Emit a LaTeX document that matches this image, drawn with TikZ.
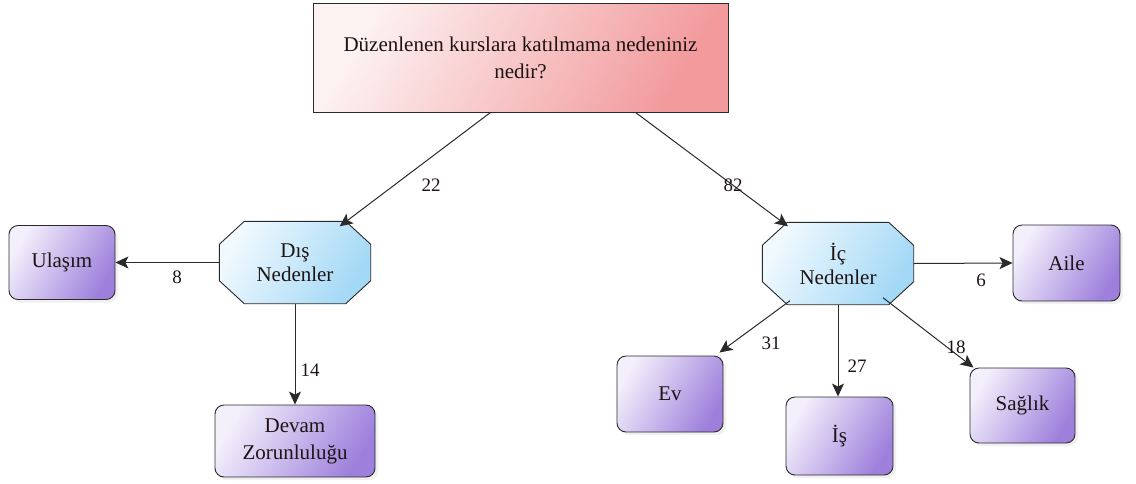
\documentclass[tikz,border=0pt]{standalone}
\usepackage{fontspec}
\setmainfont{Liberation Serif}
\usetikzlibrary{arrows.meta,shadows,backgrounds}
\definecolor{txt}{HTML}{1E1414}
\definecolor{edge}{HTML}{2A2A2A}
\definecolor{pinkA}{HTML}{FDF2F2}
\definecolor{pinkB}{HTML}{F29A9C}
\definecolor{blueA}{HTML}{F0F9FE}
\definecolor{blueB}{HTML}{A3D8F6}
\definecolor{purA}{HTML}{F3EFFB}
\definecolor{purB}{HTML}{9E80DC}
\tikzset{
  base/.style={draw=edge, line width=0.9pt, text=txt, align=center, font=\fontsize{21}{27}\selectfont},
  question/.style={base, rectangle, minimum width=415pt, minimum height=109pt,
     shading=axis, left color=pinkA, right color=pinkB, shading angle=60},
  octa/.style={text=txt, align=center, font=\fontsize{21}{24}\selectfont, rectangle,
     minimum width=151pt, minimum height=82pt, inner sep=0pt},
  octfill/.style={draw=edge, line width=0.9pt, shading=axis, left color=blueA, right color=blueB, shading angle=60},
  leaf/.style={base, rounded corners=9pt, minimum width=106pt, minimum height=74pt,
     shading=axis, left color=purA, right color=purB, shading angle=60,
     drop shadow={opacity=0.12, shadow xshift=3pt, shadow yshift=-3pt}},
  conn/.style={draw=edge, line width=1pt, -{Stealth[length=13pt,width=12pt,inset=3pt]}},
  num/.style={text=txt, font=\fontsize{19}{20}\selectfont, inner sep=0pt}
}
\newcommand{\octagon}[1]{%
  \begin{scope}[on background layer]
  \path[octfill] ([xshift=25pt]#1.north west) -- ([xshift=-25pt]#1.north east)
     -- ([yshift=-23pt]#1.north east) -- ([yshift=23pt]#1.south east)
     -- ([xshift=-25pt]#1.south east) -- ([xshift=25pt]#1.south west)
     -- ([yshift=23pt]#1.south west) -- ([yshift=-23pt]#1.north west) -- cycle;
  \end{scope}}
\begin{document}
\begin{tikzpicture}[x=1pt,y=-1pt]
\useasboundingbox (0,0) rectangle (1136,483);
\node[question] (top) at (520.5,57.5) {Düzenlenen kurslara katılmama nedeniniz\\nedir?};
\node[octa] (dis) at (295,262.5) {Dış\\Nedenler};
\node[octa] (ic) at (838,263.5) {İç\\Nedenler};
\octagon{dis}
\octagon{ic}
\node[leaf] (ulasim) at (62,262.5) {Ulaşım};
\node[leaf, minimum width=160pt, minimum height=72pt] (devam) at (295,441) {Devam\\Zorunluluğu};
\node[leaf, minimum width=107pt, minimum height=76pt] (aile) at (1066.5,263) {Aile};
\node[leaf, minimum height=76pt] (ev) at (670,394) {Ev};
\node[leaf, minimum width=107pt, minimum height=78pt] (is) at (839.5,436) {İş};
\node[leaf, minimum width=105pt, minimum height=75pt] (saglik) at (1022.5,405.5) {Sağlık};

\draw[conn] ([xshift=-30pt]top.south) -- ([xshift=-31pt,yshift=-5pt]dis.north east);
\draw[conn] ([xshift=115pt]top.south) -- ([xshift=-50pt,yshift=-4pt]ic.north);
\draw[conn] (dis.west) -- (ulasim.east);
\draw[conn] (dis.south) -- (devam.north);
\draw[conn] (ic.east) -- (aile.west);
\draw[conn] ([xshift=-48pt,yshift=4pt]ic.south) -- ([xshift=-4pt,yshift=3pt]ev.north east);
\draw[conn] (ic.south) -- (ic.south |- is.north);
\draw[conn] ([xshift=45pt,yshift=7pt]ic.south) -- ([xshift=-49pt]saglik.north);

\node[num] (n22) at (431,185) {22};
\node[num] (n82) at (733,185) {82};
\node[num] (n8) at (177,277) {8};
\node[num] (n14) at (310,370) {14};
\node[num] (n6) at (981,280) {6};
\node[num] (n31) at (771,343) {31};
\node[num] (n27) at (857,366) {27};
\node[num] (n18) at (956,347) {18};
\end{tikzpicture}
\end{document}
